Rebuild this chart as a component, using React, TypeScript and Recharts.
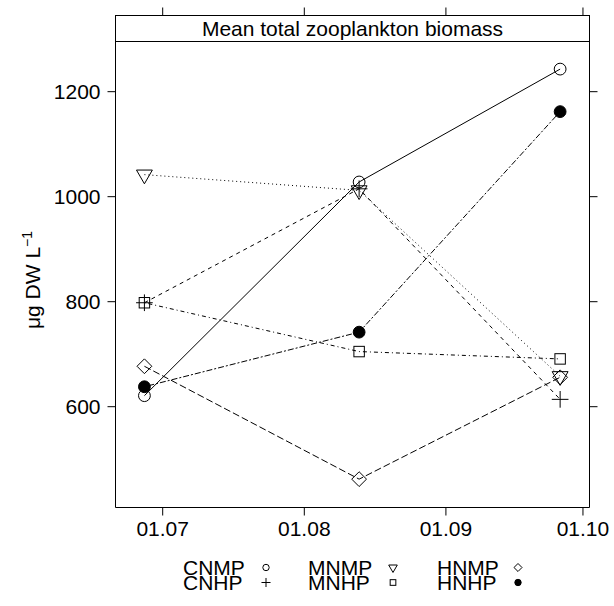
import React from 'react';
import { LineChart, Line, XAxis, YAxis } from 'recharts';

// sampling dates, as days after 01.07
const sampleDays = [-4, 43, 87];
const xTickDays = [0, 31, 62, 92];
const xTickLabels = ['01.07', '01.08', '01.09', '01.10'];
const yTicks = [600, 800, 1000, 1200];

const CNMP = [621, 1028, 1243];
const CNHP = [798, 1015, 614];
const MNMP = [1042, 1012, 658];
const MNHP = [798, 705, 691];
const HNMP = [677, 462, 656];
const HNHP = [638, 742, 1162];

const seriesNames = ['CNMP', 'CNHP', 'MNMP', 'MNHP', 'HNMP', 'HNHP'];
const seriesValues = [CNMP, CNHP, MNMP, MNHP, HNMP, HNHP];
const seriesDash = ['', '4 4', '1 3', '1 3 4 3', '7 3', '2 2 6 2'];
const seriesSymbol = ['circle', 'plus', 'triDown', 'square', 'diamond', 'dot'];

const data = sampleDays.map((d, i) => {
  const row: any = { day: d };
  seriesNames.forEach((n, k) => (row[n] = seriesValues[k][i]));
  return row;
});

const FONT = '"Liberation Sans", Arial, Helvetica, sans-serif';
const FS = 21;
const Y_DOMAIN = [408, 1345.1];
const X_DOMAIN = [-10.33, 93.43];

function Symbol({ kind, cx, cy, s }: { kind: string; cx: number; cy: number; s: number }) {
  const st = { stroke: '#000', strokeWidth: 1, fill: 'none' };
  if (kind === 'circle') return <circle cx={cx} cy={cy} r={s} {...st} />;
  if (kind === 'dot') return <circle cx={cx} cy={cy} r={s} fill="#000" stroke="#000" />;
  if (kind === 'plus') {
    const h = Math.SQRT2 * s;
    return <path d={`M${cx - h},${cy}H${cx + h}M${cx},${cy - h}V${cy + h}`} {...st} />;
  }
  if (kind === 'square') {
    const h = 0.886 * s;
    return <rect x={cx - h} y={cy - h} width={2 * h} height={2 * h} {...st} />;
  }
  if (kind === 'diamond') {
    const h = 1.2533 * s;
    return <path d={`M${cx - h},${cy}L${cx},${cy - h}L${cx + h},${cy}L${cx},${cy + h}Z`} {...st} />;
  }
  // triangle pointing down
  const r = 1.555 * s;
  const xc = 1.347 * s;
  const yc = 0.7776 * s;
  return <path d={`M${cx - xc},${cy - yc}L${cx + xc},${cy - yc}L${cx},${cy + r}Z`} {...st} />;
}

const makeDot = (kind: string) => (props: any) => {
  const { cx, cy, index } = props;
  if (cx == null || cy == null) return <g key={index} />;
  return (
    <g key={`${kind}-${index}`}>
      <Symbol kind={kind} cx={cx} cy={cy} s={5.9} />
    </g>
  );
};

const legendCols = [
  { x: 183, sx: 266 },
  { x: 308, sx: 393 },
  { x: 437, sx: 518 },
];
const legendRows = [575, 590];

export default function App() {
  const tickStyle = { fill: '#000', fontSize: FS, fontFamily: FONT };
  return (
    <div style={{ position: 'absolute', left: 0, top: 0, width: 614, height: 606, background: '#fff' }}>
      <LineChart
        width={614}
        height={606}
        data={data}
        margin={{ top: 5.5, right: 14.5, bottom: 58.5, left: 0 }}
      >
        <XAxis
          xAxisId="bottom"
          dataKey="day"
          type="number"
          domain={X_DOMAIN}
          allowDataOverflow
          ticks={xTickDays}
          tickFormatter={(v: number) => xTickLabels[xTickDays.indexOf(v)]}
          height={40}
          tickSize={8}
          tickMargin={6}
          stroke="#000"
          tick={tickStyle}
          interval={0}
        />
        <XAxis
          xAxisId="top"
          orientation="top"
          dataKey="day"
          type="number"
          domain={X_DOMAIN}
          allowDataOverflow
          ticks={xTickDays}
          tickFormatter={() => ''}
          height={10}
          tickSize={8}
          stroke="#000"
          interval={0}
        />
        <YAxis
          yAxisId="left"
          type="number"
          domain={Y_DOMAIN}
          allowDataOverflow
          ticks={yTicks}
          width={115.5}
          tickSize={8}
          tickMargin={7}
          stroke="#000"
          tick={tickStyle}
          interval={0}
        />
        <YAxis
          yAxisId="right"
          orientation="right"
          type="number"
          domain={Y_DOMAIN}
          allowDataOverflow
          ticks={yTicks}
          tickFormatter={() => ''}
          width={10}
          tickSize={8}
          stroke="#000"
          interval={0}
        />
        {seriesNames.map((n, k) => (
          <Line
            key={n}
            xAxisId="bottom"
            yAxisId="left"
            dataKey={n}
            type="linear"
            stroke="#000"
            strokeWidth={1}
            strokeDasharray={seriesDash[k] || undefined}
            dot={makeDot(seriesSymbol[k])}
            activeDot={false}
            isAnimationActive={false}
          />
        ))}
      </LineChart>
      <div
        style={{
          position: 'absolute',
          left: 115,
          top: 15,
          width: 475,
          height: 27,
          boxSizing: 'border-box',
          border: '1px solid #000',
          background: '#fff',
          fontFamily: FONT,
          fontSize: FS,
          lineHeight: '25px',
          textAlign: 'center',
          color: '#000',
        }}
      >
        Mean total zooplankton biomass
      </div>
      <svg
        width={614}
        height={606}
        style={{ position: 'absolute', left: 0, top: 0, pointerEvents: 'none' }}
      >
        <text
          transform="translate(40,280) rotate(-90)"
          textAnchor="middle"
          fontFamily={FONT}
          fontSize={FS}
          fill="#000"
        >
          μg DW L
          <tspan fontSize={14} dy={-8}>
            −1
          </tspan>
        </text>
        {seriesNames.map((n, k) => {
          const col = legendCols[Math.floor(k / 2)];
          const y = legendRows[k % 2];
          return (
            <g key={n}>
              <text x={col.x} y={y} fontFamily={FONT} fontSize={FS} fill="#000">
                {n}
              </text>
              <Symbol kind={seriesSymbol[k]} cx={col.sx} cy={y - 7.5} s={3.2} />
            </g>
          );
        })}
      </svg>
    </div>
  );
}
